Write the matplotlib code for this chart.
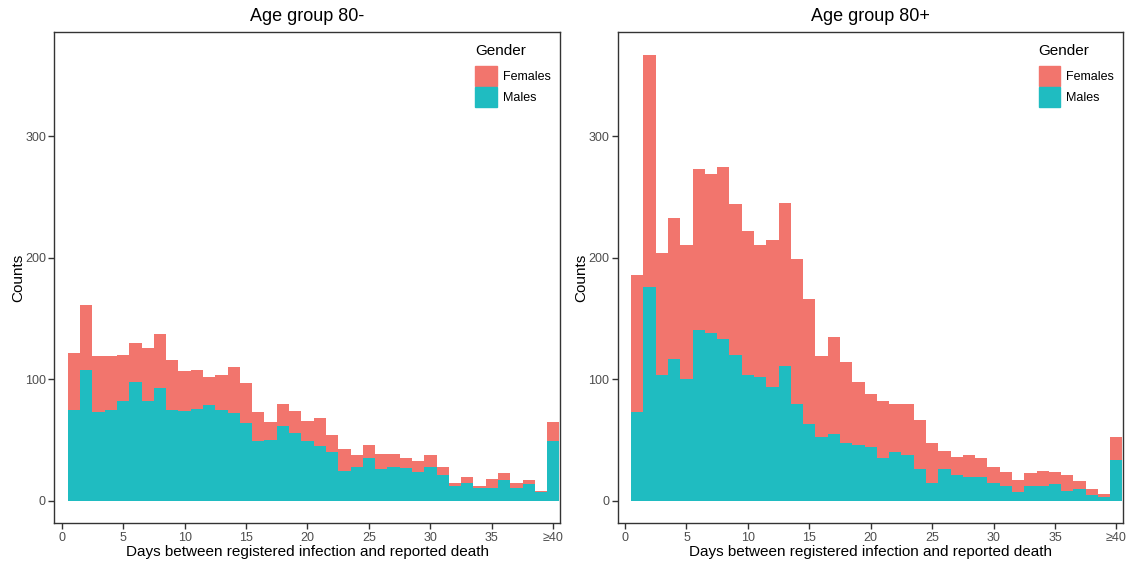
import numpy as np
import matplotlib
matplotlib.use('Agg')
import matplotlib.pyplot as plt
from matplotlib.patches import Patch

plt.rcParams['font.family'] = ['Liberation Sans', 'DejaVu Sans']

# days 1..40 (40 means >=40)
days = np.arange(1, 41)
tick_pos = [0, 5, 10, 15, 20, 25, 30, 35, 40]
tick_lab = ['0', '5', '10', '15', '20', '25', '30', '35', '≥40']

# Age group 80-
males_u80 = [75, 108, 73, 75, 82, 98, 82, 93, 75, 74, 76, 79, 75, 72, 64, 49, 50, 62, 56, 49,
             45, 40, 25, 28, 35, 26, 28, 27, 24, 28, 21, 12, 15, 11, 11, 17, 11, 14, 7, 49]
females_u80 = [47, 53, 46, 44, 38, 32, 44, 44, 41, 33, 32, 23, 29, 38, 33, 24, 15, 18, 18, 17,
               23, 14, 18, 10, 11, 13, 11, 8, 9, 10, 7, 3, 5, 1, 7, 6, 4, 3, 1, 16]

# Age group 80+
males_o80 = [73, 176, 104, 117, 100, 141, 138, 133, 120, 104, 102, 94, 111, 80, 63, 53, 55, 48, 46, 44,
             35, 40, 38, 26, 15, 26, 21, 20, 20, 15, 12, 7, 12, 12, 14, 8, 10, 5, 3, 34]
females_o80 = [113, 191, 100, 116, 111, 132, 131, 142, 124, 118, 109, 121, 134, 119, 103, 66, 80, 66, 52, 44,
               47, 40, 42, 41, 33, 15, 15, 18, 15, 13, 12, 10, 11, 13, 10, 13, 6, 5, 3, 19]

col_f = '#F2756D'
col_m = '#1FBCC1'


def panel(ax, titulo, males, females):
    ax.bar(days, males, width=1.0, color=col_m, linewidth=0)
    ax.bar(days, females, width=1.0, bottom=males, color=col_f, linewidth=0)
    ax.set_xlim(-0.6, 40.57)
    ax.set_ylim(-18.4, 385.7)
    ax.set_xticks(tick_pos)
    ax.set_xticklabels(tick_lab)
    ax.set_yticks([0, 100, 200, 300])
    ax.tick_params(colors='#333333', labelcolor='#4D4D4D', labelsize=9, length=4, width=1, pad=2)
    for s in ax.spines.values():
        s.set_color('#333333')
        s.set_linewidth(1.0)
    ax.set_title(titulo, fontsize=13, pad=8)
    ax.set_xlabel('Days between registered infection and reported death', fontsize=11, labelpad=1)
    ax.set_ylabel('Counts', fontsize=11, labelpad=0)
    handles = [Patch(color=col_f, label='Females'), Patch(color=col_m, label='Males')]
    leg = ax.legend(handles=handles, title='Gender', loc='upper left',
                    bbox_to_anchor=(0.815, 0.995), frameon=False, fontsize=9,
                    title_fontsize=11, handlelength=1.7, handleheight=2.1,
                    handletextpad=0.5, labelspacing=0.08, borderpad=0.2,
                    alignment='left')
    leg._legend_box.sep = 6


fig = plt.figure(figsize=(11.29, 5.62), dpi=100)
ax1 = fig.add_axes([0.0481, 0.0689, 0.4482, 0.8736])
ax2 = fig.add_axes([0.5471, 0.0689, 0.4479, 0.8736])
panel(ax1, 'Age group 80-', males_u80, females_u80)
panel(ax2, 'Age group 80+', males_o80, females_o80)

fig.savefig('out.png', dpi=100)
